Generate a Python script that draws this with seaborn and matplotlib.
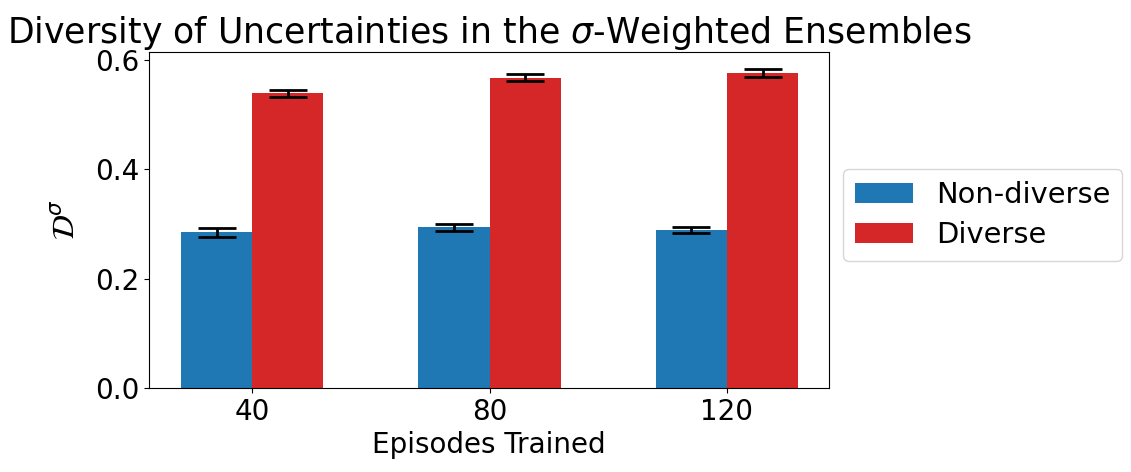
import numpy as np
import pandas as pd
import matplotlib
matplotlib.use("Agg")
import matplotlib.pyplot as plt
import seaborn as sns

episodes = ["40", "80", "120"]
groups = ["Non-diverse", "Diverse"]
non_diverse_mean = [0.285, 0.294, 0.289]
non_diverse_err = [0.008, 0.007, 0.006]
diverse_mean = [0.539, 0.568, 0.577]
diverse_err = [0.0065, 0.007, 0.0072]
colors = ["#1f77b4", "#d62728"]

df = pd.DataFrame({
    "Episodes": episodes * 2,
    "Group": [groups[0]] * 3 + [groups[1]] * 3,
    "value": non_diverse_mean + diverse_mean,
})

plt.rcParams["font.family"] = ["DejaVu Sans"]
plt.rcParams["font.size"] = 20

fig, ax = plt.subplots(figsize=(11.31, 4.72), dpi=100)
fig.subplots_adjust(left=0.1317, right=0.7330, bottom=0.178, top=0.890)

sns.barplot(data=df, x="Episodes", y="value", hue="Group", order=episodes,
            hue_order=groups, palette=colors, width=0.6, errorbar=None,
            saturation=1, linewidth=0, edgecolor="none", ax=ax)

x = np.arange(len(episodes))
for off, mean, err in [(-0.15, non_diverse_mean, non_diverse_err),
                       (0.15, diverse_mean, diverse_err)]:
    ax.errorbar(x + off, mean, yerr=err, fmt="none", ecolor="black",
                elinewidth=2, capsize=14, capthick=2)

ax.set_xlim(-0.435, 2.43)
ax.set_ylim(0, 0.615)
ax.set_yticks([0.0, 0.2, 0.4, 0.6])
ax.set_xlabel("Episodes Trained", fontsize=20)
ax.set_ylabel(r"$\mathcal{D}^\sigma$", fontsize=22, labelpad=10)
ax.tick_params(labelsize=20)
ax.set_title(r"Diversity of Uncertainties in the $\sigma$-Weighted Ensembles",
             fontsize=25)
ax.legend(loc="center left", bbox_to_anchor=(1.0, 0.515), fontsize=20.8,
          borderpad=0.4, labelspacing=0.42, borderaxespad=0.5)

fig.savefig("out.png", dpi=100)
